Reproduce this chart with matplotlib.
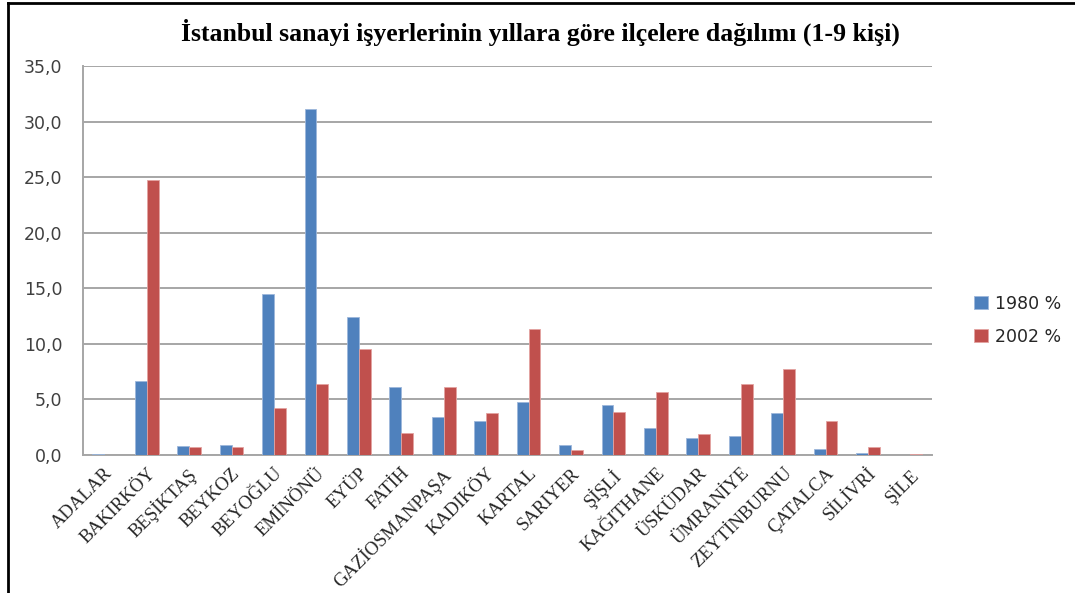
import matplotlib
matplotlib.use('Agg')
import matplotlib.pyplot as plt
import matplotlib.transforms as mtransforms
import numpy as np

# district names and shares (%) of 1-9 person workplaces
districts = ['ADALAR', 'BAKIRKÖY', 'BEŞİKTAŞ', 'BEYKOZ', 'BEYOĞLU', 'EMİNÖNÜ', 'EYÜP',
             'FATİH', 'GAZİOSMANPAŞA', 'KADIKÖY', 'KARTAL', 'SARIYER', 'ŞİŞLİ',
             'KAĞITHANE', 'ÜSKÜDAR', 'ÜMRANİYE', 'ZEYTİNBURNU', 'ÇATALCA', 'SİLİVRİ', 'ŞİLE']
share_1980 = [0.1, 6.7, 0.8, 0.9, 14.5, 31.1, 12.4, 6.1, 3.4, 3.1, 4.8, 0.9, 4.5,
              2.4, 1.5, 1.7, 3.8, 0.5, 0.2, 0.0]
share_2002 = [0.0, 24.7, 0.75, 0.75, 4.2, 6.4, 9.5, 2.0, 6.1, 3.8, 11.3, 0.45, 3.9,
              5.7, 1.9, 6.4, 7.7, 3.1, 0.7, 0.1]
series_names = ['1980 %', '2002 %']
y_ticks = [0, 5, 10, 15, 20, 25, 30, 35]

blue = '#4F81BD'
red = '#C0504D'

fig = plt.figure(figsize=(10.75, 5.93), dpi=100)
ax = fig.add_axes([0.0772, 0.2327, 0.7895, 0.656])

x = np.arange(len(districts))
w = 0.28
ax.bar(x - w / 2, share_1980, w, color=blue, edgecolor='#9DB7DB', linewidth=0.6,
       label=series_names[0], zorder=3)
ax.bar(x + w / 2, share_2002, w, color=red, edgecolor='#E3A3A1', linewidth=0.6,
       label=series_names[1], zorder=3)

ax.set_xlim(-0.5, len(districts) - 0.5)
ax.set_ylim(0, 35)
ax.set_yticks(y_ticks)
ax.set_yticklabels([f'{v:.1f}'.replace('.', ',') for v in y_ticks],
                   fontsize=12.5, color='#404040', family='DejaVu Sans')
ax.yaxis.grid(True, color='#A6A6A6', linewidth=1.4, zorder=0)
ax.tick_params(axis='y', length=0, pad=15)
ax.tick_params(axis='x', length=0, pad=7)

ax.set_xticks(x)
ax.set_xticklabels(districts, rotation=45, ha='right', fontsize=13.5,
                   family='Liberation Serif', color='#262626')
shift = mtransforms.ScaledTranslation(12 / 100, 0, fig.dpi_scale_trans)
for lab in ax.get_xticklabels():
    lab.set_transform(lab.get_transform() + shift)

for side in ['top', 'right']:
    ax.spines[side].set_visible(False)
for side in ['left', 'bottom']:
    ax.spines[side].set_color('#A6A6A6')
    ax.spines[side].set_linewidth(1.4)

leg = fig.legend(loc='center left', bbox_to_anchor=(0.898, 0.46), frameon=False,
                 prop={'family': 'DejaVu Sans', 'size': 12.5}, borderpad=0,
                 handlelength=0.8, handleheight=0.8, handletextpad=0.4,
                 labelspacing=0.85)
for t in leg.get_texts():
    t.set_color('#262626')

fig.text(0.503, 0.946, 'İstanbul sanayi işyerlerinin yıllara göre ilçelere dağılımı (1-9 kişi)',
         ha='center', va='center', fontsize=18.5, fontweight='bold',
         family='Liberation Serif')

# frame lines of the cropped page
fig.add_artist(plt.Line2D([0.0075, 0.0075], [0, 0.995], color='black', linewidth=2,
                          transform=fig.transFigure))
fig.add_artist(plt.Line2D([0.0075, 1], [0.995, 0.995], color='black', linewidth=2,
                          transform=fig.transFigure))

fig.savefig('out.png', dpi=100)
